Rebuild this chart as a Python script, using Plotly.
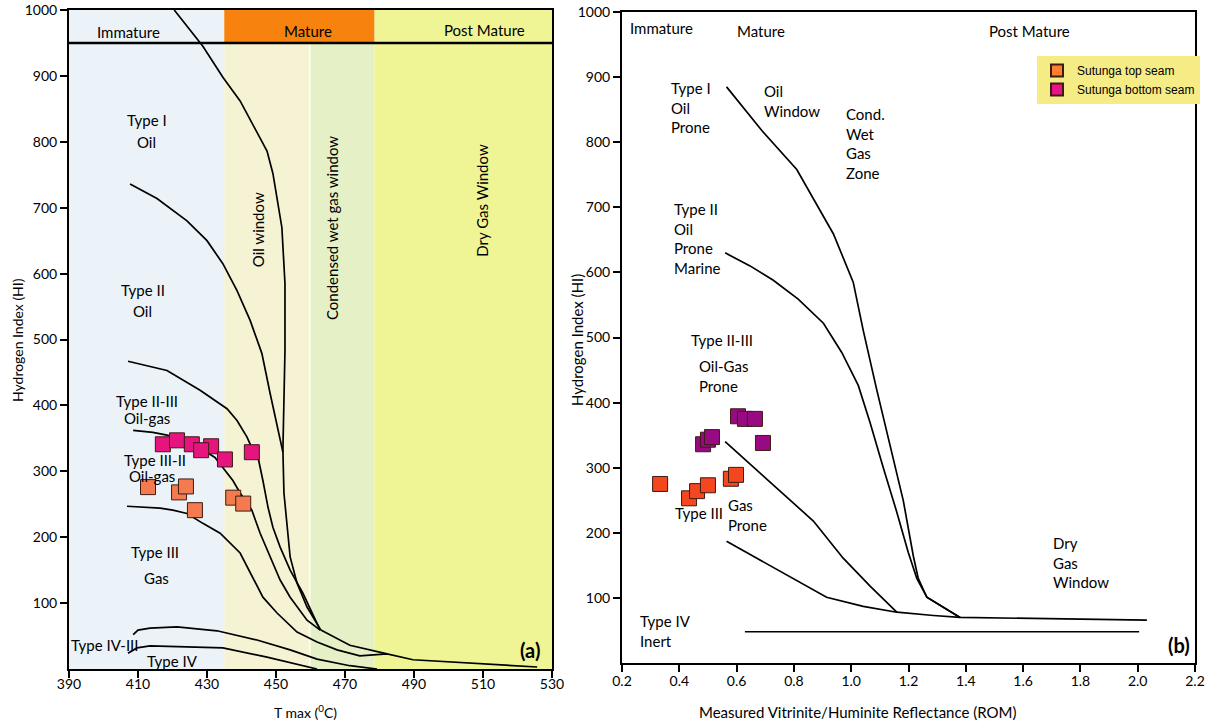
import plotly.graph_objects as go

# ---------------- DATA: panel (a)  Tmax vs HI ----------------
typeI_T   = [420.5, 428.8, 434.6, 439.6, 447.4, 449.1, 451.7, 452.6, 452.6, 452.0, 452.3, 453.2, 454.1, 456.1, 459.0, 463.0]
typeI_HI  = [1000, 945, 898, 862, 786, 752, 670, 585, 483, 332, 267, 221, 170, 130, 94, 59]
typeII_T  = [407.7, 415.5, 424.2, 430.0, 434.6, 438.7, 442.5, 445.9, 448.3, 450.3, 452.0]
typeII_HI = [736, 714, 680, 650, 615, 574, 529, 479, 418, 367, 329]
typeII_III_T  = [407.1, 418.4, 428.0, 435.8, 438.7, 441.6, 443.3, 444.8, 446.2, 447.7, 449.1, 451.2, 454.1, 457.8, 462.8]
typeII_III_HI = [467, 453, 423, 395, 377, 352, 332, 321, 286, 245, 215, 185, 150, 115, 59]
typeIII_II_T  = [408.6, 414.3, 418.4, 425.9, 432.3, 437.5, 439.6, 443.0, 445.4, 448.3, 451.2, 454.1, 459.0, 462.8]
typeIII_II_HI = [362, 359, 355, 342, 321, 286, 267, 241, 206, 170, 135, 109, 74, 59]
merge_T  = [463.0, 471.4, 482.2]
merge_HI = [59, 36, 23]
typeIII_T  = [406.8, 416.4, 420.1, 424.2, 428.8, 433.8, 439.6, 442.5, 446.2, 450.3, 456.1, 461.9, 467.7, 474.3, 482.2, 489.7, 525.7]
typeIII_HI = [247, 244, 241, 236, 221, 206, 176, 147, 109, 85, 56, 41, 29, 20, 23, 14, 3]
typeIV_III_T  = [408.6, 410.0, 413.5, 421.3, 432.9, 437.5, 444.5, 454.1, 461.9, 471.4, 479.3]
typeIV_III_HI = [52, 59, 62, 64, 58, 52, 44, 29, 15, 5, 0]
typeIV_T  = [407.1, 409.7, 413.5, 428.0, 434.6, 447.4, 457.0, 461.9]
typeIV_HI = [24, 32, 35, 33, 32, 18, 6, 0]

# samples (panel a)
a_bottom_T  = [417.2, 421.3, 425.6, 431.2, 428.3, 435.2, 443.0]
a_bottom_HI = [341, 347, 341, 338, 332, 318, 329]
a_top_T  = [412.9, 421.9, 423.9, 426.5, 437.6, 440.5]
a_top_HI = [276, 268, 277, 241, 260, 251]

# maturity zones (Tmax boundaries)
zone_immature = [390, 435]
zone_oil      = [435, 459.6]
zone_cond     = [460, 478.5]
zone_dry      = [478.5, 530]
header_HI     = [950, 1000]

# ---------------- DATA: panel (b)  Ro vs HI ----------------
b_I_R   = [0.565, 0.688, 0.810, 0.938, 1.007, 1.042, 1.089, 1.135, 1.182, 1.217, 1.234, 1.264, 1.380]
b_I_HI  = [885, 818, 758, 659, 585, 511, 420, 335, 249, 164, 130, 101, 70]
b_II_R  = [0.560, 0.647, 0.728, 0.815, 0.903, 0.967, 1.025, 1.066, 1.112, 1.159, 1.199, 1.229, 1.264, 1.380]
b_II_HI = [630, 610, 588, 559, 522, 477, 426, 369, 300, 232, 170, 130, 101, 70]
b_IIIII_R  = [0.560, 0.705, 0.868, 0.972, 1.066, 1.159]
b_IIIII_HI = [340, 283, 218, 161, 118, 78]
b_III_R  = [0.565, 0.705, 0.914, 1.042, 1.159, 1.287, 1.380, 2.032]
b_III_HI = [187, 153, 101, 87, 78, 73, 70, 66]
b_IV_R  = [0.629, 2.005]
b_IV_HI = [48, 48]

b_bottom_R  = [0.483, 0.500, 0.514, 0.605, 0.629, 0.664, 0.692]
b_bottom_HI = [336, 343, 347, 379, 375, 375, 338]
b_top_R  = [0.333, 0.434, 0.462, 0.500, 0.580, 0.598]
b_top_HI = [275, 253, 264, 273, 283, 289]

legend_names = ["Sutunga top seam", "Sutunga bottom seam"]

# ---------------- FIGURE ----------------
FONT = "Lato"
W, H = 1219, 722
fig = go.Figure()

def curve(x, y, ax):
    fig.add_trace(go.Scatter(x=x, y=y, mode="lines", xaxis=ax[0], yaxis=ax[1],
                             line=dict(color="black", width=1.7), showlegend=False,
                             hoverinfo="skip"))

for xs, ys in [(typeI_T, typeI_HI), (typeII_T, typeII_HI), (typeII_III_T, typeII_III_HI),
               (typeIII_II_T, typeIII_II_HI), (merge_T, merge_HI), (typeIII_T, typeIII_HI),
               (typeIV_III_T, typeIV_III_HI), (typeIV_T, typeIV_HI)]:
    curve(xs, ys, ("x", "y"))

for xs, ys in [(b_I_R, b_I_HI), (b_II_R, b_II_HI), (b_IIIII_R, b_IIIII_HI),
               (b_III_R, b_III_HI), (b_IV_R, b_IV_HI)]:
    curve(xs, ys, ("x2", "y2"))

def pts(x, y, ax, color, name=None, legend=False):
    fig.add_trace(go.Scatter(x=x, y=y, mode="markers", xaxis=ax[0], yaxis=ax[1],
                             name=name, showlegend=legend,
                             marker=dict(symbol="square", size=15, color=color,
                                         line=dict(color="#3b1c14", width=1))))

pts(a_top_T, a_top_HI, ("x", "y"), "#F47B50")
pts(a_bottom_T, a_bottom_HI, ("x", "y"), "#E5147F")
pts(b_top_R, b_top_HI, ("x2", "y2"), "#F4461F")
pts(b_bottom_R, b_bottom_HI, ("x2", "y2"), "#980A82")
pts([None], [None], ("x2", "y2"), "#FF7F2F", legend_names[0], True)
pts([None], [None], ("x2", "y2"), "#EC1388", legend_names[1], True)

# zone backgrounds (panel a)
shapes = []
def rect(x0, x1, y0, y1, color):
    shapes.append(dict(type="rect", xref="x", yref="y", x0=x0, x1=x1, y0=y0, y1=y1,
                       fillcolor=color, line=dict(width=0), layer="below"))
rect(zone_immature[0], zone_immature[1], 0, header_HI[1], "#EBF3F9")
rect(zone_oil[0], zone_oil[1], 0, header_HI[0], "#F6F3D4")
rect(zone_cond[0], zone_cond[1], 0, header_HI[0], "#E6F0C6")
rect(zone_dry[0], zone_dry[1], 0, header_HI[1], "#EFF595")
rect(zone_oil[0], zone_dry[0], header_HI[0], header_HI[1], "#F7820E")
shapes.append(dict(type="line", xref="x", yref="y", x0=zone_immature[0], x1=zone_dry[1],
                   y0=header_HI[0], y1=header_HI[0], line=dict(color="black", width=2.5)))

ann = []
def label(text, x, y, ax, size=15, xanchor="center", yanchor="middle", angle=0, bold=False, align="center"):
    ann.append(dict(text=f"<b>{text}</b>" if bold else text, x=x, y=y, xref=ax[0], yref=ax[1],
                    showarrow=False, xanchor=xanchor, yanchor=yanchor, textangle=angle,
                    align=align, font=dict(family=FONT, size=size, color="black")))

A = ("x", "y")
label("Immature", 407.1, 967, A)
label("Mature", 459.3, 968, A)
label("Post Mature", 510.3, 970, A)
label("Type I", 412.6, 833, A)
label("Oil", 412.6, 800, A)
label("Type II", 411.4, 575, A)
label("Oil", 411.4, 543, A)
label("Type II-III", 412.6, 407, A)
label("Oil-gas", 412.6, 381, A)
label("Type III-II", 414.9, 317, A)
label("Oil-gas", 414.1, 293, A)
label("Type III", 414.9, 178, A)
label("Gas", 415.5, 138, A)
label("Type IV-III", 400.4, 36, A)
label("Type IV", 419.9, 12, A)
label("Oil window", 444.8, 666, A, angle=-90)
label("Condensed wet gas window", 466.2, 669, A, angle=-90)
label("Dry Gas Window", 509.7, 712, A, angle=-90)
label("(a)", 523.6, 29, A, size=20, bold=True)

B = ("x2", "y2")
label("Immature", 0.221, 975, B, xanchor="left")
label("Mature", 0.594, 971, B, xanchor="left")
label("Post Mature", 1.474, 971, B, xanchor="left")
label("Type I<br>Oil<br>Prone", 0.364, 854, B, xanchor="left", align="left")
label("Oil<br>Window", 0.689, 864, B, xanchor="left", align="left")
label("Cond.<br>Wet<br>Gas<br>Zone", 0.975, 798, B, xanchor="left", align="left")
label("Type II<br>Oil<br>Prone<br>Marine", 0.375, 652, B, xanchor="left", align="left")
label("Type II-III", 0.434, 496, B, xanchor="left")
label("Oil-Gas<br>Prone", 0.462, 441, B, xanchor="left", align="left")
label("Type III", 0.560, 230, B, xanchor="right")
label("Gas<br>Prone", 0.563, 227, B, xanchor="left", align="left")
label("Type IV<br>Inert", 0.256, 49, B, xanchor="left", align="left")
label("Dry<br>Gas<br>Window", 1.697, 154, B, xanchor="left", align="left")
label("(b)", 2.19, 28, B, size=20, bold=True, xanchor="right")

# axis titles (placed in page coordinates)
def title(text, px, py, size, angle=0):
    ann.append(dict(text=text, x=px / W, y=1 - py / H, xref="paper", yref="paper",
                    showarrow=False, xanchor="center", yanchor="middle", textangle=angle,
                    font=dict(family=FONT, size=size, color="black")))
title("Hydrogen Index (HI)", 18, 340, 14, -90)
title("T max (<sup>0</sup>C)", 305, 711, 14)
title("Hydrogen Index (HI)", 577, 340, 15, -90)
title("Measured Vitrinite/Huminite Reflectance (ROM)", 858, 712, 15)

axis_common = dict(showline=True, linecolor="black", linewidth=2, mirror=True,
                   ticks="outside", ticklen=7, tickwidth=1.5, tickcolor="black",
                   showgrid=False, zeroline=False, automargin=False,
                   tickfont=dict(family=FONT, size=14, color="black"))

fig.update_layout(
    width=W, height=H, margin=dict(l=0, r=0, t=0, b=0, autoexpand=False),
    paper_bgcolor="white", plot_bgcolor="white",
    shapes=shapes, annotations=ann,
    xaxis=dict(domain=[69 / W, 552 / W], range=[390, 530], tickvals=list(range(390, 531, 20)),
               anchor="y", ticklabelstandoff=-6, **axis_common),
    yaxis=dict(domain=[1 - 669 / H, 1 - 10 / H], range=[0, 1000], tickvals=list(range(100, 1001, 100)),
               anchor="x", **axis_common),
    xaxis2=dict(domain=[622 / W, 1195 / W], range=[0.2, 2.2],
                tickvals=[0.2, 0.4, 0.6, 0.8, 1.0, 1.2, 1.4, 1.6, 1.8, 2.0, 2.2], tickformat=".1f",
                anchor="y2", ticklabelstandoff=-3, **axis_common),
    yaxis2=dict(domain=[1 - 663 / H, 1 - 12 / H], range=[0, 1000], tickvals=list(range(100, 1001, 100)),
                anchor="x2", **axis_common),
    legend=dict(x=1037 / W, y=1 - 56 / H, xanchor="left", yanchor="top",
                bgcolor="#F6EC86", borderwidth=0,
                font=dict(family="Liberation Sans", size=12, color="black"),
                itemsizing="constant", tracegroupgap=2),
)

fig.write_html("out.html")
